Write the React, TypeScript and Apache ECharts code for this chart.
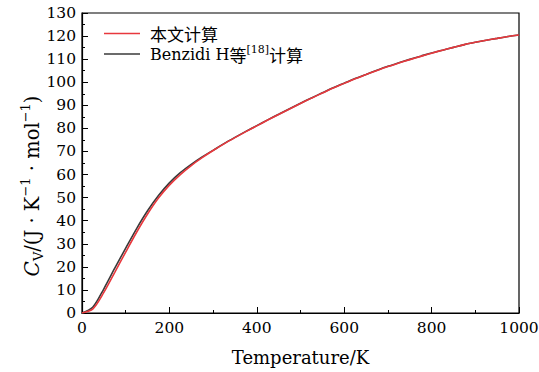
import React, { useEffect, useRef } from "react";
import * as echarts from "echarts";

const temps = [0, 25, 50, 75, 100, 125, 150, 175, 200, 225, 250, 275, 300, 325, 350, 375, 400, 425, 450, 475, 500, 525, 550, 575, 600, 625, 650, 675, 700, 725, 750, 775, 800, 825, 850, 875, 900, 925, 950, 975, 1000];
const oursCv = [0, 1.8, 8.9, 17.6, 26.4, 35.0, 42.9, 49.8, 55.4, 60.0, 63.9, 67.3, 70.4, 73.3, 76.0, 78.6, 81.1, 83.6, 86.0, 88.4, 90.8, 93.1, 95.3, 97.5, 99.5, 101.5, 103.3, 105.1, 106.8, 108.3, 109.8, 111.2, 112.6, 113.9, 115.1, 116.3, 117.3, 118.2, 119.0, 119.8, 120.5];
const benzidiCv = [0, 2.6, 10.5, 19.4, 28.1, 36.6, 44.3, 50.9, 56.4, 60.8, 64.4, 67.6, 70.5, 73.4, 76.1, 78.7, 81.2, 83.7, 86.1, 88.5, 90.9, 93.2, 95.4, 97.6, 99.6, 101.6, 103.4, 105.2, 106.9, 108.4, 109.9, 111.3, 112.7, 113.9, 115.1, 116.3, 117.3, 118.2, 119.0, 119.8, 120.5];
const yTicks = { min: 0, max: 130, interval: 10 };
const xTicks = { min: 0, max: 1000, interval: 200 };
const seriesNames = ["本文计算", "Benzidi H等[18]计算"];

const SERIF = "'DejaVu Serif', 'Noto Sans CJK SC', serif";
const CJK = "'Noto Sans CJK SC', sans-serif";

export default function App() {
  const ref = useRef<HTMLDivElement>(null);
  useEffect(() => {
    if (!ref.current) return;
    const chart = echarts.init(ref.current, undefined, { renderer: "svg" });
    chart.setOption({
      animation: false,
      backgroundColor: "#fff",
      grid: {
        left: 82,
        right: 20,
        top: 13,
        bottom: 59,
        show: true,
        borderColor: "#000",
        borderWidth: 1.2,
        outerBoundsMode: "none",
      },
      legend: {
        data: seriesNames,
        orient: "vertical",
        left: 99,
        top: 20,
        icon: "rect",
        itemWidth: 36,
        itemHeight: 1.5,
        itemGap: 2,
        formatter: (name: string) =>
          name === seriesNames[1]
            ? "{a|Benzidi H}{c|等}{s|[18]}{c|计算}"
            : "{c|" + name + "}",
        textStyle: {
          padding: [0, 0, 0, 5],
          rich: {
            a: { fontFamily: SERIF, fontSize: 16, color: "#000", lineHeight: 20 },
            c: { fontFamily: CJK, fontSize: 17, color: "#000", lineHeight: 20 },
            s: { fontFamily: SERIF, fontSize: 11, color: "#000", verticalAlign: "top", lineHeight: 11 },
          },
        },
      },
      xAxis: {
        type: "value",
        min: xTicks.min,
        max: xTicks.max,
        interval: xTicks.interval,
        name: "Temperature/K",
        nameLocation: "middle",
        nameGap: 35,
        nameTextStyle: { fontFamily: SERIF, fontSize: 18, color: "#000" },
        axisLine: { show: true, lineStyle: { color: "#000", width: 1.2 } },
        axisTick: { show: true, inside: true, length: 6, lineStyle: { color: "#000" } },
        minorTick: { show: true, splitNumber: 2, length: 3, lineStyle: { color: "#000" } },
        splitLine: { show: false },
        axisLabel: {
          fontFamily: SERIF,
          fontSize: 15.5,
          color: "#000",
          margin: 7,
          showMaxLabel: true,
          showMinLabel: true,
          formatter: (v: number) => String(v),
        },
      },
      yAxis: {
        type: "value",
        min: yTicks.min,
        max: yTicks.max,
        interval: yTicks.interval,
        axisLine: { show: true, lineStyle: { color: "#000", width: 1.2 } },
        axisTick: { show: true, inside: true, length: 6, lineStyle: { color: "#000" } },
        minorTick: { show: true, splitNumber: 2, length: 3, lineStyle: { color: "#000" } },
        splitLine: { show: false },
        axisLabel: {
          fontFamily: SERIF,
          fontSize: 15.5,
          color: "#000",
          margin: 6,
          showMaxLabel: true,
          showMinLabel: true,
          formatter: (v: number) => String(v),
        },
      },
      graphic: [
        {
          type: "text",
          x: 32,
          y: 186,
          rotation: Math.PI / 2,
          style: {
            text: "{i|C}{sub|V}{n|/(J · K}{sup|−1}{n| · mol}{sup|−1}{n|)}",
            align: "center",
            verticalAlign: "middle",
            rich: {
              i: { fontFamily: SERIF, fontStyle: "italic", fontSize: 20, lineHeight: 26, fill: "#000" },
              sub: { fontFamily: SERIF, fontSize: 13, lineHeight: 14, verticalAlign: "bottom", fill: "#000" },
              n: { fontFamily: SERIF, fontSize: 19.5, lineHeight: 26, fill: "#000" },
              sup: { fontFamily: SERIF, fontSize: 13, lineHeight: 13, verticalAlign: "top", fill: "#000" },
            },
          },
        },
      ],
      series: [
        {
          name: seriesNames[1],
          type: "line",
          data: temps.map((t, i) => [t, benzidiCv[i]]),
          symbol: "none",
          smooth: 0.3,
          z: 2,
          lineStyle: { color: "#3a3a3a", width: 1.6 },
          itemStyle: { color: "#3a3a3a" },
        },
        {
          name: seriesNames[0],
          type: "line",
          data: temps.map((t, i) => [t, oursCv[i]]),
          symbol: "none",
          smooth: 0.3,
          z: 3,
          lineStyle: { color: "#e8383d", width: 1.6 },
          itemStyle: { color: "#e8383d" },
        },
      ],
    });
    return () => chart.dispose();
  }, []);
  return <div ref={ref} style={{ width: 539, height: 372, position: "absolute", left: 0, top: 0 }} />;
}
